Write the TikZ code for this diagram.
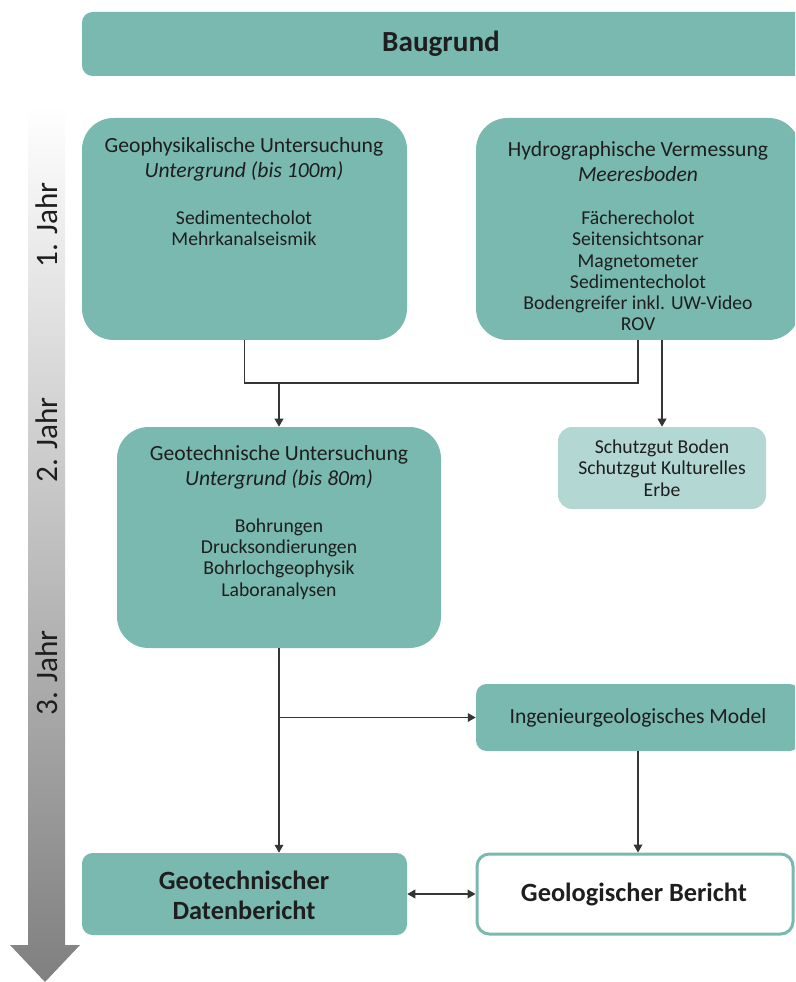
\documentclass[tikz,border=0pt]{standalone}
\usepackage{fontspec}
\setmainfont{Carlito}
\usetikzlibrary{arrows.meta,fit}

\definecolor{boxteal}{HTML}{79B9AF}
\definecolor{boxlight}{HTML}{B3D7D2}
\definecolor{ink}{HTML}{1E1E1E}

\newcommand\fsBau{\fontsize{16.6}{19}\selectfont\bfseries}
\newcommand\fsHead{\fontsize{12.3}{14.2}\selectfont}
\newcommand\fsList{\fontsize{11.2}{12.1}\selectfont}
\newcommand\fsBig{\fontsize{15}{17}\selectfont\bfseries}
\newcommand\fsYear{\fontsize{17.8}{20}\selectfont}

\tikzset{
  box/.style={fill=boxteal, inner sep=0pt, rounded corners=18pt},
  txt/.style={text=ink, align=center, inner sep=0pt},
  head/.style={txt, font=\fsHead},
  list/.style={txt, font=\fsList},
  year/.style={txt, font=\fsYear, rotate=90},
  con/.style={draw=ink!90, line width=0.6pt},
  arr/.style={con, -{Triangle[length=4.5pt,width=5pt]}},
}

\begin{document}
\begin{tikzpicture}[x=0.02cm, y=-0.02cm]
\useasboundingbox (0,0) rectangle (795,982);
\clip (0,0) rectangle (795,982);

% time arrow
\shade[top color=white, bottom color=black!50]
  (28,105) -- (65,105) -- (65,945) -- (80,945) -- (45,982) -- (10,945) -- (28,945) -- cycle;
\node[year] (j1) at (47,225) {1. Jahr};
\node[year] (j2) at (47,440) {2. Jahr};
\node[year] (j3) at (47,673) {3. Jahr};

% boxes
\node[box, rounded corners=6pt, fit={(82,12) (805,76)}] (bau) {};
\node[box, fit={(82,118) (407,340)}] (geo) {};
\node[box, fit={(476,118) (800,340)}] (hyd) {};
\node[box, fit={(117,427) (441,648)}] (gtu) {};
\node[box, fill=boxlight, rounded corners=8pt, fit={(558,427) (766,509)}] (sch) {};
\node[box, rounded corners=6pt, fit={(476,684) (800,751)}] (ing) {};
\node[box, rounded corners=6pt, fit={(82,853) (407,935)}] (dat) {};
\node[box, fill=white, draw=boxteal, line width=1.7pt, rounded corners=7pt, fit={(477,854) (793,934)}] (geb) {};

% texts
\node[txt, font=\fsBau] (bauT) at (441,44) {Baugrund};

\node[head] (geoT) at (244,159.5) {Geophysikalische Untersuchung\\\textit{Untergrund (bis 100m)}};
\node[list] (geoL) at (244,228) {Sedimentecholot\\Mehrkanalseismik};

\node[head] (hydT) at (638,162) {Hydrographische Vermessung\\\textit{Meeresboden}};
\node[list] (hydL) at (638,271) {Fächerecholot\\Seitensichtsonar\\Magnetometer\\Sedimentecholot\\Bodengreifer inkl. UW-Video\\ROV};

\node[head] (gtuT) at (279,467.5) {Geotechnische Untersuchung\\\textit{Untergrund (bis 80m)}};
\node[list] (gtuL) at (279,559) {Bohrungen\\Drucksondierungen\\Bohrlochgeophysik\\Laboranalysen};

\node[list] (schT) at (662,468) {Schutzgut Boden\\Schutzgut Kulturelles\\Erbe};

\node[head] (ingT) at (638,718) {Ingenieurgeologisches Model};

\node[txt, font=\fsBig] (datT) at (244,895) {Geotechnischer\\Datenbericht};
\node[txt, font=\fsBig] (gebT) at (634,894) {Geologischer Bericht};

% connectors
\coordinate (jn) at (279,383);
\draw[con] (geo.south) |- (jn) -| (hyd.south);
\draw[arr] (jn) -- (gtu.north);
\draw[arr] (sch.north |- hyd.south) -- (sch.north);
\draw[arr] (gtu.south -| jn) -- (dat.north -| jn);
\draw[arr] (gtu.south |- ing.west) -- (ing.west);
\draw[arr] (ing.south) -- (ing.south |- geb.north);
\draw[con, {Triangle[length=4.5pt,width=5pt]}-{Triangle[length=4.5pt,width=5pt]}] (dat.east) -- (geb.west);

\end{tikzpicture}
\end{document}
